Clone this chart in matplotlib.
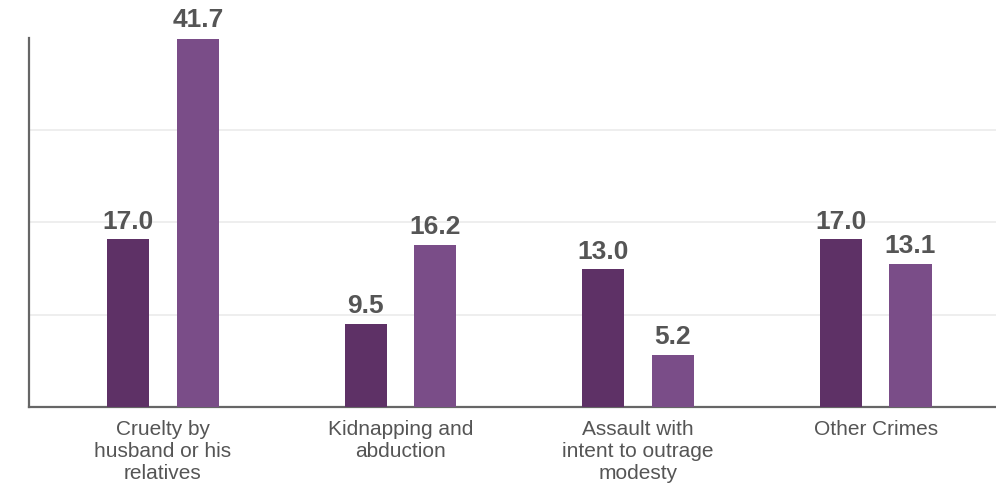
import numpy as np
import matplotlib.pyplot as plt

plt.rcParams['font.family'] = ['Liberation Sans', 'DejaVu Sans']

# categories and bar values (heights, labels as printed)
categories = ["Cruelty by\nhusband or his\nrelatives",
              "Kidnapping and\nabduction",
              "Assault with\nintent to outrage\nmodesty",
              "Other Crimes"]
heights_a = [18.2, 9.0, 14.9, 18.2]
heights_b = [40.1, 17.6, 5.6, 15.5]
labels_a = ["17.0", "9.5", "13.0", "17.0"]
labels_b = ["41.7", "16.2", "5.2", "13.1"]

dark = "#5e3166"
light = "#7a4d88"
text_col = "#555555"

fig = plt.figure(figsize=(9.96, 4.86), dpi=100)
ax = fig.add_axes([29 / 996, 79.5 / 486, 1 - 29 / 996, (406.5 - 38.5) / 486])

x = np.arange(len(categories))
w = 0.177
off = 0.147
bars_a = ax.bar(x - off, heights_a, width=w, color=dark, zorder=3)
bars_b = ax.bar(x + off, heights_b, width=w, color=light, zorder=3)

for bars, labs in [(bars_a, labels_a), (bars_b, labels_b)]:
    for b, t in zip(bars, labs):
        ax.annotate(t, (b.get_x() + b.get_width() / 2, b.get_height()),
                    xytext=(0, 4), textcoords="offset points",
                    ha="center", va="bottom", fontsize=19, fontweight="bold",
                    color=text_col, annotation_clip=False, zorder=4)

ax.set_xlim(-0.564, 3.507)
ax.set_ylim(0, 40)
ax.set_yticks([0, 10, 20, 30, 40])
ax.set_yticklabels([])
ax.tick_params(axis="y", length=0)
ax.grid(axis="y", color="#ebebeb", linewidth=1.2, zorder=0)
ax.set_axisbelow(True)

ax.set_xticks(x)
ax.set_xticklabels(categories, fontsize=15, color=text_col, linespacing=1.2)
ax.tick_params(axis="x", length=0, pad=10)

for s in ["top", "right"]:
    ax.spines[s].set_visible(False)
for s in ["left", "bottom"]:
    ax.spines[s].set_color("#666666")
    ax.spines[s].set_linewidth(1.6)

fig.savefig("out.png", dpi=100)
